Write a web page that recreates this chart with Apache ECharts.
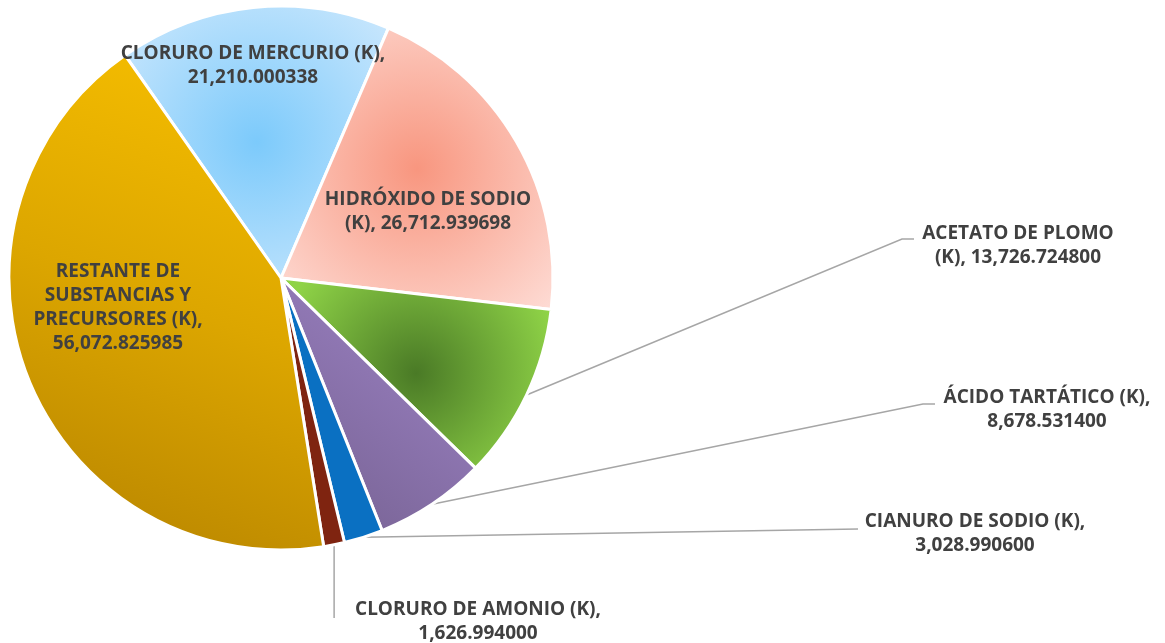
<!DOCTYPE html>
<html>
<head>
<meta charset="utf-8">
<script src="https://cdn.jsdelivr.net/npm/echarts@6/dist/echarts.min.js"></script>
<style>
html,body{margin:0;padding:0;background:#fff;}
#chart{width:1165px;height:643px;}
</style>
</head>
<body>
<div id="chart"></div>
<script>
// Data (clockwise from the top-left slice)
var categories = [
  "CLORURO DE MERCURIO (K)",
  "HIDRÓXIDO DE SODIO (K)",
  "ACETATO DE PLOMO (K)",
  "ÁCIDO TARTÁTICO (K)",
  "CIANURO DE SODIO (K)",
  "CLORURO DE AMONIO (K)",
  "RESTANTE DE SUBSTANCIAS Y PRECURSORES (K)"
];
var values = [21210.000338, 26712.939698, 13726.724800, 8678.531400, 3028.990600, 1626.994000, 56072.825985];
// Label text lines as shown in the chart ({v} = formatted value)
var labelTexts = [
  "CLORURO DE MERCURIO (K),\n{v}",
  "HIDRÓXIDO DE SODIO\n(K), {v}",
  "ACETATO DE PLOMO\n(K), {v}",
  "ÁCIDO TARTÁTICO (K),\n{v}",
  "CIANURO DE SODIO (K),\n{v}",
  "CLORURO DE AMONIO (K),\n{v}",
  "RESTANTE DE\nSUBSTANCIAS Y\nPRECURSORES (K),\n{v}"
];

function fmt(v){
  var parts = v.toFixed(6).split('.');
  parts[0] = parts[0].replace(/\B(?=(\d{3})+(?!\d))/g, ',');
  return parts.join('.');
}

var fills = [
  {type:'radial',x:0.5,y:0.5,r:0.75,colorStops:[{offset:0,color:'#7ccafb'},{offset:1,color:'#d2eafd'}]},
  {type:'radial',x:0.5,y:0.5,r:0.75,colorStops:[{offset:0,color:'#f8967f'},{offset:1,color:'#fee0da'}]},
  {type:'radial',x:0.5,y:0.5,r:0.75,colorStops:[{offset:0,color:'#4a7a26'},{offset:1,color:'#8fd347'}]},
  {type:'linear',x:0,y:1,x2:1,y2:0,colorStops:[{offset:0,color:'#74608f'},{offset:1,color:'#a186cb'}]},
  '#0a70c2',
  '#7f2410',
  {type:'linear',x:0.2,y:1,x2:0.8,y2:0,colorStops:[{offset:0,color:'#b88500'},{offset:0.5,color:'#dca600'},{offset:1,color:'#f7bf00'}]}
];

// label anchor placement (center of text block) and leader line layout
var labelPlace = [
  {x:253, y:66},
  {x:428, y:212},
  {x:1018, y:246, line:[[902,239],[914,239]]},
  {x:1047, y:410, line:[[923,404],[935,404]]},
  {x:975, y:534, line:[[858,529]]},
  {x:478, y:622, line:[['s',618]]},
  {x:118, y:308}
];
var outside = [false,false,true,true,true,true,false];

var data = categories.map(function(n,i){
  return {
    name:n, value:values[i],
    itemStyle:{color:fills[i]},
    label:{position: outside[i] ? 'outside' : 'inside'},
    labelLine:{show: outside[i]}
  };
});

var chart = echarts.init(document.getElementById('chart'));
chart.setOption({
  animation:false,
  series:[{
    type:'pie',
    center:[281,278],
    radius:[0,272],
    startAngle:125,
    clockwise:true,
    avoidLabelOverlap:false,
    itemStyle:{borderColor:'#ffffff',borderWidth:3},
    label:{
      show:true,
      color:'#404040',
      fontFamily:'Open Sans',
      fontWeight:'bold',
      fontSize:19,
      lineHeight:24,
      align:'center',
      formatter:function(p){ return labelTexts[p.dataIndex].replace('{v}', fmt(p.value)); }
    },
    labelLine:{lineStyle:{color:'#a6a6a6',width:1.5},length:20,length2:20},
    emphasis:{disabled:true},
    labelLayout:function(p){
      var pl = labelPlace[p.dataIndex];
      var res = {x:pl.x, y:pl.y, align:'center', verticalAlign:'middle', hideOverlap:false};
      if (pl.line && p.labelLinePoints) {
        var s = p.labelLinePoints[0];
        var pts = [[s[0],s[1]]];
        pl.line.forEach(function(q){ pts.push([q[0]==='s'?s[0]:q[0], q[1]]); });
        res.labelLinePoints = pts;
      }
      return res;
    },
    data:data
  }]
});
</script>
</body>
</html>
